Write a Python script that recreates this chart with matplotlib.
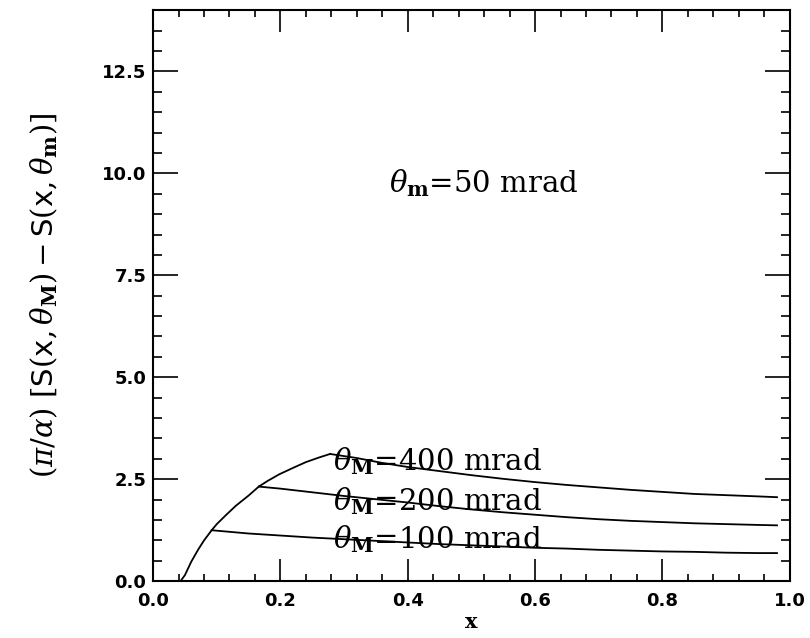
import matplotlib
matplotlib.use("Agg")
import matplotlib.pyplot as plt
from matplotlib.ticker import MultipleLocator, FormatStrFormatter

# Common rising envelope (shared by all curves up to their kinks)
env_x = [0.043, 0.050, 0.060, 0.071, 0.080, 0.092, 0.100, 0.115, 0.130, 0.150, 0.166,
         0.180, 0.198, 0.220, 0.240, 0.260, 0.278]
env_y = [0.00, 0.15, 0.48, 0.78, 1.00, 1.25, 1.40, 1.63, 1.85, 2.10, 2.32,
         2.46, 2.62, 2.78, 2.92, 3.03, 3.12]

# Tails after the kink for each theta_M
x100 = [0.092, 0.15, 0.20, 0.25, 0.30, 0.35, 0.40, 0.45, 0.50, 0.55, 0.60, 0.65, 0.70, 0.75, 0.80, 0.85, 0.90, 0.95, 0.98]
y100 = [1.25, 1.17, 1.12, 1.07, 1.03, 0.99, 0.95, 0.91, 0.88, 0.85, 0.82, 0.80, 0.77, 0.75, 0.73, 0.72, 0.70, 0.69, 0.69]

x200 = [0.166, 0.20, 0.25, 0.30, 0.35, 0.40, 0.45, 0.50, 0.55, 0.60, 0.65, 0.70, 0.75, 0.80, 0.85, 0.90, 0.95, 0.98]
y200 = [2.32, 2.27, 2.18, 2.09, 2.01, 1.93, 1.84, 1.76, 1.69, 1.63, 1.57, 1.52, 1.48, 1.45, 1.42, 1.40, 1.38, 1.37]

x400 = [0.278, 0.32, 0.36, 0.40, 0.45, 0.50, 0.55, 0.60, 0.65, 0.70, 0.75, 0.80, 0.85, 0.90, 0.95, 0.98]
y400 = [3.12, 3.02, 2.90, 2.80, 2.70, 2.60, 2.51, 2.43, 2.36, 2.30, 2.24, 2.19, 2.14, 2.11, 2.08, 2.06]

curve_labels = ["400", "200", "100"]
label_baselines = [2.71, 1.74, 0.80]

plt.rcParams['mathtext.fontset'] = 'dejavuserif'

fig = plt.figure(figsize=(8.1, 6.38), dpi=100)
ax = fig.add_axes([0.189, 0.089, 0.786, 0.895])

ax.plot(env_x, env_y, color='black', lw=1.3)
for xs, ys in [(x100, y100), (x200, y200), (x400, y400)]:
    ax.plot(xs, ys, color='black', lw=1.3)

ax.set_xlim(0.0, 1.0)
ax.set_ylim(0.0, 14.0)

ax.xaxis.set_major_locator(MultipleLocator(0.2))
ax.xaxis.set_minor_locator(MultipleLocator(0.04))
ax.yaxis.set_major_locator(MultipleLocator(2.5))
ax.yaxis.set_minor_locator(MultipleLocator(0.5))

ax.tick_params(axis='both', which='both', direction='in', top=True, right=True,
               width=1.2, color='black')
ax.tick_params(axis='y', which='major', length=18, pad=5)
ax.tick_params(axis='y', which='minor', length=6.5)
ax.tick_params(axis='x', which='major', length=16, pad=8)
ax.tick_params(axis='x', which='minor', length=5)

ax.xaxis.set_major_formatter(FormatStrFormatter('%.1f'))
ax.yaxis.set_major_formatter(FormatStrFormatter('%.1f'))
for lab in ax.get_xticklabels() + ax.get_yticklabels():
    lab.set_fontsize(13)
    lab.set_fontweight('bold')
    lab.set_family('DejaVu Sans')

for sp in ax.spines.values():
    sp.set_linewidth(1.5)

ax.set_xlabel('x', fontsize=15, fontweight='bold', family='DejaVu Serif', labelpad=1)
ax.set_ylabel(r'$(\pi/\alpha)\ [\mathsf{S}(\mathsf{x},\theta_{\mathbf{M}})-\mathsf{S}(\mathsf{x},\theta_{\mathbf{m}})]$',
              fontsize=21, labelpad=30)

ax.text(0.37, 9.55, r'$\theta_{\mathbf{m}}$=50 mrad', fontsize=21, family='DejaVu Serif',
        ha='left', va='baseline')
for lab, yb in zip(curve_labels, label_baselines):
    ax.text(0.283, yb, r'$\theta_{\mathbf{M}}$=' + lab + ' mrad', fontsize=21,
            family='DejaVu Serif', ha='left', va='baseline')

fig.savefig('out.png', dpi=100)
